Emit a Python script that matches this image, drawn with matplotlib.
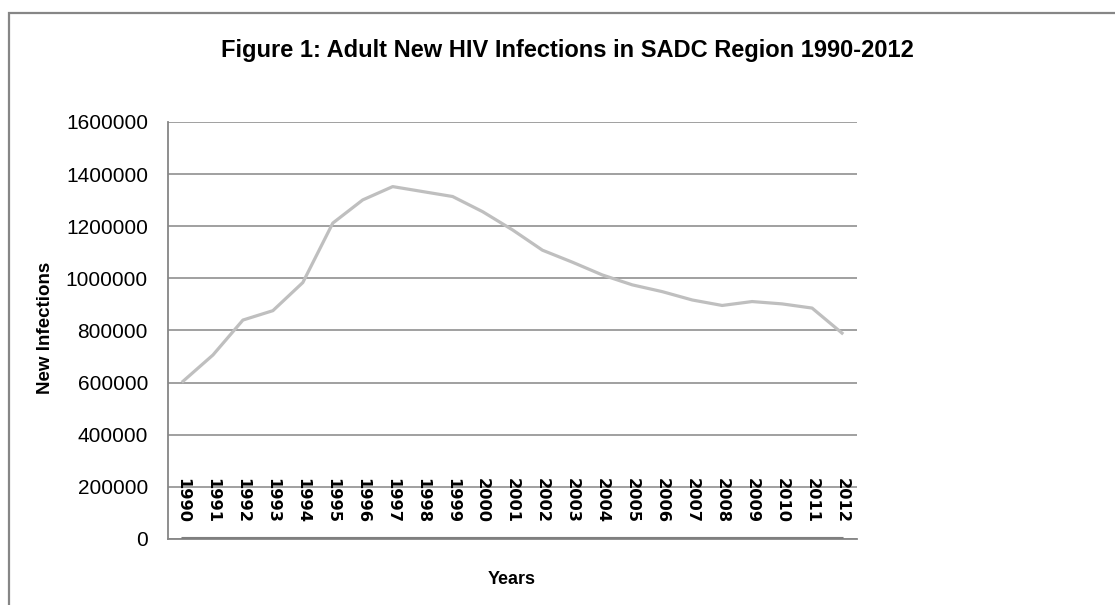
import numpy as np
import matplotlib.pyplot as plt
from matplotlib.patches import Rectangle
from matplotlib.transforms import blended_transform_factory

# adult new HIV infections, SADC region
years = list(range(1990, 2013))
infections = [605000, 706000, 840000, 876000, 984000, 1212000, 1301000, 1352000,
              1333000, 1314000, 1256000, 1186000, 1108000, 1062000, 1013000, 975000,
              949000, 917000, 896000, 911000, 902000, 886000, 790000]
yticks = list(range(0, 1600001, 200000))

GRID = '#868686'

fig = plt.figure(figsize=(11.15, 6.05), dpi=100)
ax = fig.add_axes([0.1507, 0.1091, 0.6179, 0.6893])

x = np.arange(len(years))
ax.plot(x, infections, color='#bfbfbf', lw=2.3, solid_joinstyle='round', zorder=3)
# the year column went in as a series too, so it sits flat along zero
ax.plot(x, years, color='#7f7f7f', lw=2.2, zorder=3)

ax.set_xlim(-0.5, len(years) - 0.5)
ax.set_ylim(0, 1600000)
ax.set_yticks(yticks)
ax.set_yticklabels([str(v) for v in yticks], family='Liberation Sans', fontsize=15)
ax.tick_params(axis='y', length=0, pad=14.5)
ax.set_xticks([])
ax.grid(axis='y', color=GRID, lw=1.1)
ax.set_axisbelow(True)

for side in ('top', 'right'):
    ax.spines[side].set_visible(False)
for side in ('left', 'bottom'):
    ax.spines[side].set_color(GRID)
    ax.spines[side].set_linewidth(1.3)

# category labels drawn inside the plot area
tr = blended_transform_factory(ax.transData, ax.transAxes)
for i, yr in enumerate(years):
    ax.text(x[i], 0.146, str(yr), transform=tr, rotation=270, ha='center', va='top',
            family='DejaVu Sans', fontweight='bold', fontsize=11.7)

fig.text(0.509, 0.917, 'Figure 1: Adult New HIV Infections in SADC Region 1990-2012',
         ha='center', va='center', family='Liberation Sans', fontweight='bold', fontsize=17)
fig.text(45 / 1115, 1 - 328 / 605, 'New Infections', rotation=90, ha='center', va='center',
         family='Liberation Sans', fontweight='bold', fontsize=13.5)
fig.text(512 / 1115, 1 - 580 / 605, 'Years', ha='center', va='center',
         family='Liberation Sans', fontweight='bold', fontsize=13)

# chart border
fig.patches.append(Rectangle((9 / 1115, -0.2), 1.2, 0.2 + (605 - 13) / 605,
                             transform=fig.transFigure, fill=False,
                             edgecolor=GRID, lw=1.6))

fig.savefig('out.png', dpi=100)
